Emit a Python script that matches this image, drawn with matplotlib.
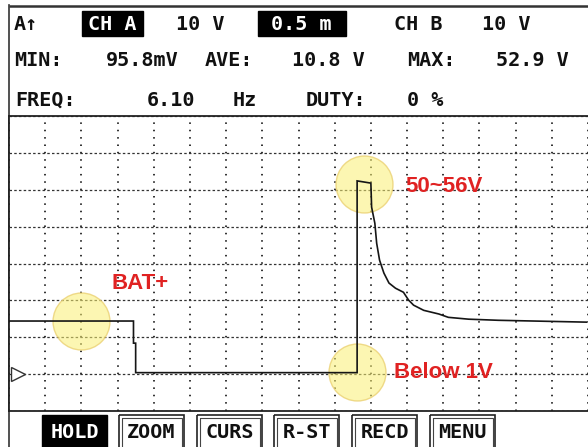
import numpy as np
import matplotlib
matplotlib.use("Agg")
import matplotlib.pyplot as plt
from matplotlib.patches import Rectangle

plt.rcParams['lines.scale_dashes'] = False

# ---------------- data ----------------
time_ms = [0.0, 1.72, 1.72, 1.75, 1.75, 3.0, 4.81, 4.81, 5.00, 5.01, 5.055, 5.08,
           5.12, 5.18, 5.25, 5.34, 5.45, 5.52, 5.59, 5.73, 5.94, 6.07, 6.35, 6.76, 7.975]
volts = [14.4, 14.4, 8.4, 8.4, 0.4, 0.4, 0.4, 52.4, 51.8, 45.3, 40.9, 35.5,
         30.9, 27.4, 24.7, 23.3, 22.2, 20.1, 18.7, 17.3, 16.3, 15.4, 14.9, 14.6, 14.1]

note_labels = ["BAT+", "50~56V", "Below 1V"]
note_label_t = [1.42, 5.48, 5.32]
note_label_v = [24.7, 51.0, 0.4]
circle_t = [0.99, 4.90, 4.81]
circle_v = [14.4, 51.5, 0.5]

header_row1 = ["A\u2191", "CH A", "10 V", "0.5 m", "CH B", "10 V"]
header_row2 = ["MIN:", "95.8mV", "AVE:", "10.8 V", "MAX:", "52.9 V"]
header_row3 = ["FREQ:", "6.10", "Hz", "DUTY:", "0 %"]
buttons = ["HOLD", "ZOOM", "CURS", "R-ST", "RECD", "MENU"]

volts_per_div = 10
ms_per_div = 0.5

# ---------------- layout ----------------
W, H = 588, 447
fig = plt.figure(figsize=(W / 100, H / 100), dpi=100)

bg = fig.add_axes([0, 0, 1, 1], zorder=0)
bg.set_xlim(0, W)
bg.set_ylim(H, 0)
bg.axis('off')

mono = dict(family='DejaVu Sans Mono', fontweight='bold', fontsize=14.5)

# header frame
bg.plot([9, W], [5.5, 5.5], color='#333333', lw=1.8, solid_capstyle='butt')
bg.plot([9, 9], [5, H], color='#333333', lw=1.2)

# highlight boxes
bg.add_patch(Rectangle((82, 11), 61, 25, color='black', zorder=1))
bg.add_patch(Rectangle((258, 11), 88, 25, color='black', zorder=1))

row1_x = [26, 112.5, 200, 301, 418.5, 506]
row2_x = [38, 142, 228.5, 328.5, 431, 532.5]
row3_x = [45.5, 171, 245, 336, 425]
row_y = [24, 61, 100]
for i, t in enumerate(header_row1):
    col = 'white' if i in (1, 3) else '#111111'
    bg.text(row1_x[i], row_y[0], t, ha='center', va='center', color=col, zorder=2, **mono)
for i, t in enumerate(header_row2):
    bg.text(row2_x[i], row_y[1], t, ha='center', va='center', color='#111111', **mono)
for i, t in enumerate(header_row3):
    bg.text(row3_x[i], row_y[2], t, ha='center', va='center', color='#111111', **mono)

# bottom buttons
btn_x0 = [42, 119, 197, 274, 352, 430]
btn_w = 65
for i, b in enumerate(buttons):
    x0 = btn_x0[i]
    if i == 0:
        bg.add_patch(Rectangle((x0, 415), btn_w, 40, color='black', zorder=1))
        bg.text(x0 + btn_w / 2, 432, b, ha='center', va='center', color='white', zorder=2, **mono)
    else:
        bg.add_patch(Rectangle((x0, 415), btn_w, 40, fill=False, ec='#222222', lw=1.2, zorder=1))
        bg.add_patch(Rectangle((x0 + 2.5, 417.5), btn_w - 5, 40, fill=False, ec='#444444', lw=0.8, zorder=1))
        bg.text(x0 + btn_w / 2, 432, b, ha='center', va='center', color='#111111', zorder=2, **mono)

# ---------------- scope area ----------------
ax = fig.add_axes([9 / W, (H - 411) / H, (W - 9) / W, 295 / H], zorder=1)
ax.set_xlim(0, (W - 9) / 72.6)
ax.set_ylim(-1 * volts_per_div, 7 * volts_per_div)
ax.set_xticks(np.arange(0, 8.01, ms_per_div))
ax.set_yticks(np.arange(-10, 71, volts_per_div))
ax.tick_params(length=0, labelbottom=False, labelleft=False)
for s in ['left', 'top', 'bottom']:
    ax.spines[s].set_color('#222222')
    ax.spines[s].set_linewidth(1.3)
ax.spines['right'].set_visible(False)

ax.xaxis.grid(True, color='#222222', lw=1.3, linestyle=(0, (1.1, 4.2)))
ax.yaxis.grid(True, color='#333333', lw=0.9, linestyle=(0, (1.8, 1.6)))
ax.set_axisbelow(True)

# ground marker
ax.plot([0.125], [0], marker='>', ms=9.5, mfc='white', mec='#333333', mew=1.0,
        linestyle='none', zorder=4, clip_on=False)

# highlight circles
ax.plot(circle_t, circle_v, 'o', ms=41, mfc=(0.98, 0.94, 0.45, 0.55),
        mec=(0.92, 0.82, 0.45, 0.8), mew=1.0, linestyle='none', zorder=2)

# trace
ax.plot(time_ms, volts, color='#151515', lw=1.2, zorder=3, solid_joinstyle='miter')

# labels
for lab, tx, ty in zip(note_labels, note_label_t, note_label_v):
    ax.text(tx, ty, lab, color='#e02222', fontsize=16, fontweight='bold',
            family='Liberation Sans', ha='left', va='center', zorder=5)

fig.savefig('out.png', dpi=100)
